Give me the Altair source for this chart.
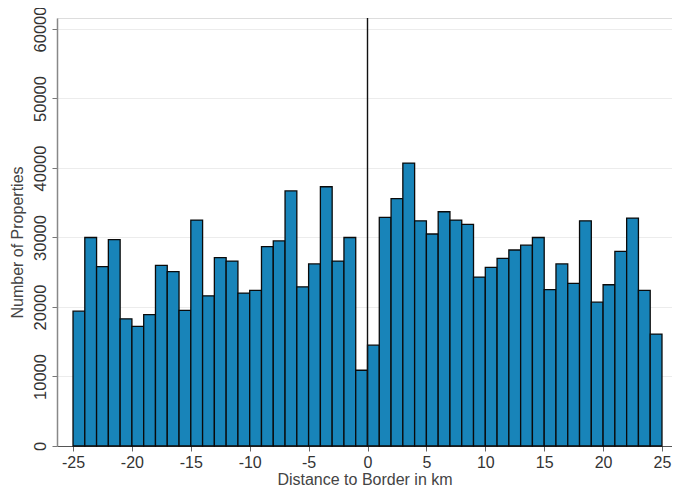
import altair as alt
import pandas as pd

bin_start = list(range(-25, 25))
counts = [19400, 30000, 25800, 29700, 18300, 17200, 18900, 26000, 25100, 19500,
          32500, 21600, 27100, 26600, 22000, 22400, 28700, 29500, 36700, 22900,
          26200, 37300, 26600, 30000, 10900, 14500, 32900, 35600, 40700, 32400,
          30500, 33700, 32500, 31900, 24300, 25700, 27000, 28200, 28900, 30000,
          22500, 26200, 23400, 32400, 20700, 23200, 28000, 32800, 22400, 16100]
x_ticks = [-25, -20, -15, -10, -5, 0, 5, 10, 15, 20, 25]
y_ticks = [0, 10000, 20000, 30000, 40000, 50000, 60000]

df = pd.DataFrame({"start": bin_start, "end": [b + 1 for b in bin_start], "count": counts})

FONT = "Liberation Sans"

xscale = alt.Scale(domain=[-26.36, 25.85], nice=False, zero=False)
yscale = alt.Scale(domain=[0, 61580], nice=False)

bars = alt.Chart(df).mark_rect(
    fill="#1884b9", stroke="#0a0a0a", strokeWidth=1.3
).encode(
    x=alt.X("start:Q", scale=xscale, axis=alt.Axis(
        values=x_ticks, title="Distance to Border in km", grid=False,
        labelExpr="'' + datum.value", labelFontSize=16, labelColor="#333333",
        labelFont=FONT, titleFont=FONT, titleFontSize=16, titleFontWeight="normal",
        titleColor="#444444", tickSize=5, tickColor="#666666", labelPadding=3,
        titlePadding=1, domainColor="#555555", domainWidth=1.2, labelFlush=False)),
    x2="end:Q",
    y=alt.Y("count:Q", scale=yscale, axis=alt.Axis(
        values=y_ticks, title="Number of Properties", format="d",
        grid=True, gridColor="#ececec", gridWidth=1,
        labelAngle=-90, labelAlign="center", labelBaseline="bottom",
        labelFontSize=16.5, labelColor="#333333", labelFont=FONT,
        titleFont=FONT, titleFontSize=16, titleFontWeight="normal", titleColor="#444444",
        titleAngle=-90, titleX=-32, titleY=224, titleAlign="center", titleBaseline="bottom",
        tickSize=5, tickColor="#777777", labelPadding=4,
        domainColor="#888888", domainWidth=1.5, labelFlush=False)),
    y2=alt.datum(0),
)

vline = alt.Chart(pd.DataFrame({"x": [0]})).mark_rule(color="#111111", strokeWidth=1.4).encode(
    x=alt.X("x:Q", scale=xscale),
    y=alt.value(0),
    y2=alt.value(428),
)

chart = alt.layer(bars, vline).properties(
    width=615, height=428,
    autosize=alt.AutoSizeParams(type="none"),
    padding={"left": 49, "top": 10, "right": 0, "bottom": 40},
).configure_view(stroke=None).configure(background="white")

chart.save("out.html", embed_options={"renderer": "svg", "actions": False})
